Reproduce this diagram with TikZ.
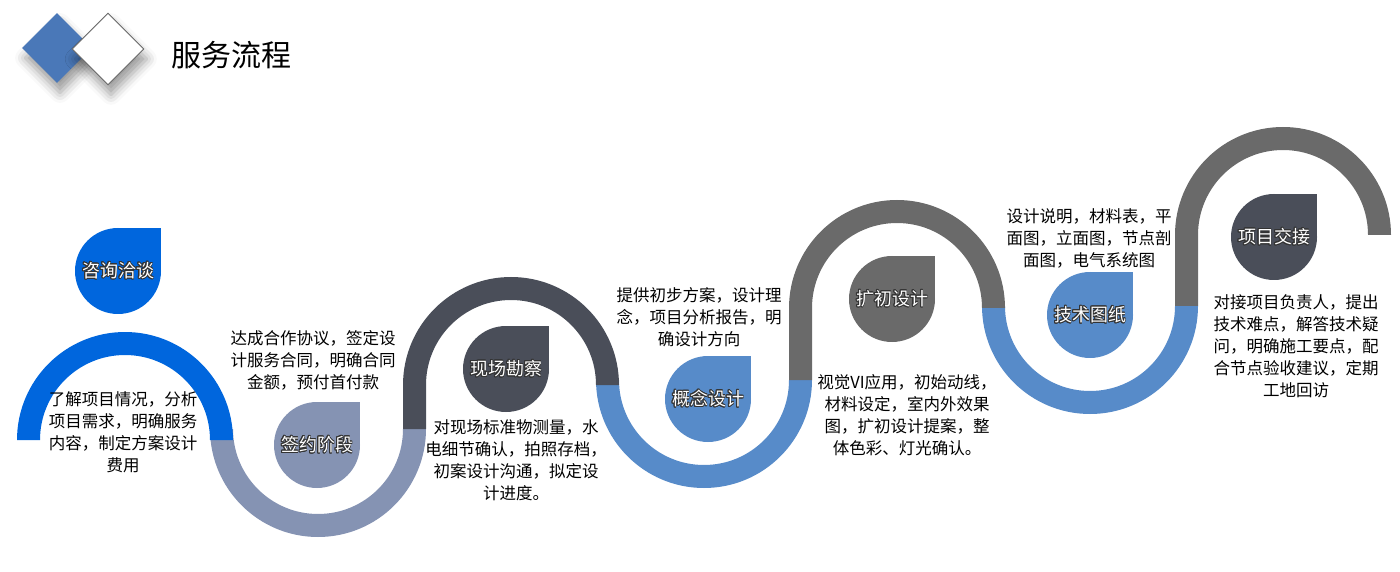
\documentclass[tikz,border=0pt]{standalone}
\usepackage{fontspec}
\setmainfont{Noto Sans CJK SC}
\usepackage{contour}
\contourlength{0.9pt}
\usetikzlibrary{shapes.geometric,shadows.blur}

\definecolor{flowBlue}{HTML}{0066DD}
\definecolor{flowSlate}{HTML}{8593B3}
\definecolor{flowDark}{HTML}{4A4E59}
\definecolor{flowSteel}{HTML}{578BC9}
\definecolor{flowGrey}{HTML}{6A6A6A}
\definecolor{flowDiamond}{HTML}{4A78B8}

\tikzset{
  drop/.style={circle, minimum size=86pt, inner sep=0pt, text=white,
    font=\fontsize{18}{21}\selectfont},
  desc/.style={align=center, inner sep=0pt, font=\fontsize{16.5}{22}\selectfont},
  mark diamond/.style={diamond, aspect=1, inner sep=0pt,
    blur shadow={shadow xshift=3pt, shadow yshift=-10pt, shadow blur radius=10pt, shadow opacity=40}},
}
\newcommand{\droplabel}[1]{\contour{black!80}{#1}}

\begin{document}
\begin{tikzpicture}[x=1pt,y=1pt]
  \useasboundingbox (0,0) rectangle (1400,571);

  % heading
  \node[mark diamond, fill=flowDiamond, minimum width=70pt, minimum height=70pt] (blueMark) at (57,523) {};
  \node[mark diamond, fill=white, draw=black!60, line width=0.9pt, minimum width=72pt, minimum height=72pt] (whiteMark) at (108,522) {};
  \node[anchor=west, font=\fontsize{30}{34}\selectfont] (title) at (168,516) {服务流程};

  % lower half rings
  \fill[flowSlate] (210,142) arc[start angle=180, end angle=360, radius=108pt]
    -- (403,142) arc[start angle=0, end angle=-180, radius=85pt] -- cycle;
  \fill[flowSteel] (596,191) arc[start angle=180, end angle=360, radius=108pt]
    -- (789,191) arc[start angle=0, end angle=-180, radius=85pt] -- cycle;
  \fill[flowSteel] (982,265) arc[start angle=180, end angle=360, radius=108pt]
    -- (1175,265) arc[start angle=0, end angle=-180, radius=85pt] -- cycle;

  % upper half rings
  \fill[flowBlue] (17,131) arc[start angle=180, end angle=0, radius=108pt]
    -- (210,131) arc[start angle=0, end angle=180, radius=85pt] -- cycle;
  \fill[flowDark] (403,142) -- (403,186) arc[start angle=180, end angle=0, radius=108pt]
    -- (596,186) arc[start angle=0, end angle=180, radius=85pt] -- (426,142) -- cycle;
  \fill[flowGrey] (789,191) -- (789,263) arc[start angle=180, end angle=0, radius=108pt]
    -- (982,263) arc[start angle=0, end angle=180, radius=85pt] -- (812,191) -- cycle;
  \fill[flowGrey] (1175,265) -- (1175,336) arc[start angle=180, end angle=0, radius=108pt]
    -- (1368,336) arc[start angle=0, end angle=180, radius=85pt] -- (1198,265) -- cycle;

  % drops
  \fill[flowBlue] (118,300) rectangle (161,343);
  \node[drop, fill=flowBlue] (consult) at (118,300) {\droplabel{咨询洽谈}};
  \fill[flowSlate] (317,126) rectangle (360,169);
  \node[drop, fill=flowSlate] (contract) at (317,126) {\droplabel{签约阶段}};
  \fill[flowDark] (506,202) rectangle (549,245);
  \node[drop, fill=flowDark] (survey) at (506,202) {\droplabel{现场勘察}};
  \fill[flowSteel] (708,172) rectangle (751,215);
  \node[drop, fill=flowSteel] (concept) at (708,172) {\droplabel{概念设计}};
  \fill[flowGrey] (892,272) rectangle (935,315);
  \node[drop, fill=flowGrey] (expand) at (892,272) {\droplabel{扩初设计}};
  \fill[flowSteel] (1090,256) rectangle (1133,299);
  \node[drop, fill=flowSteel] (drawings) at (1090,256) {\droplabel{技术图纸}};
  \fill[flowDark] (1274,334) rectangle (1317,377);
  \node[drop, fill=flowDark] (handover) at (1274,334) {\droplabel{项目交接}};

  % descriptions
  \node[desc] (consultText) at (123,139) {了解项目情况，分析\\项目需求，明确服务\\内容，制定方案设计\\费用};
  \node[desc] (contractText) at (313,211) {达成合作协议，签定设\\计服务合同，明确合同\\金额，预付首付款};
  \node[desc] (surveyText) at (516,111) {对现场标准物测量，水\\电细节确认，拍照存档，\\初案设计沟通，拟定设\\计进度。};
  \node[desc] (conceptText) at (699,254) {提供初步方案，设计理\\念，项目分析报告，明\\确设计方向};
  \node[desc] (expandText) at (907,156) {视觉VI应用，初始动线，\\材料设定，室内外效果\\图，扩初设计提案，整\\体色彩、灯光确认。};
  \node[desc] (drawingsText) at (1089,333) {设计说明，材料表，平\\面图，立面图，节点剖\\面图，电气系统图};
  \node[desc] (handoverText) at (1296,225) {对接项目负责人，提出\\技术难点，解答技术疑\\问，明确施工要点，配\\合节点验收建议，定期\\工地回访};
\end{tikzpicture}
\end{document}
